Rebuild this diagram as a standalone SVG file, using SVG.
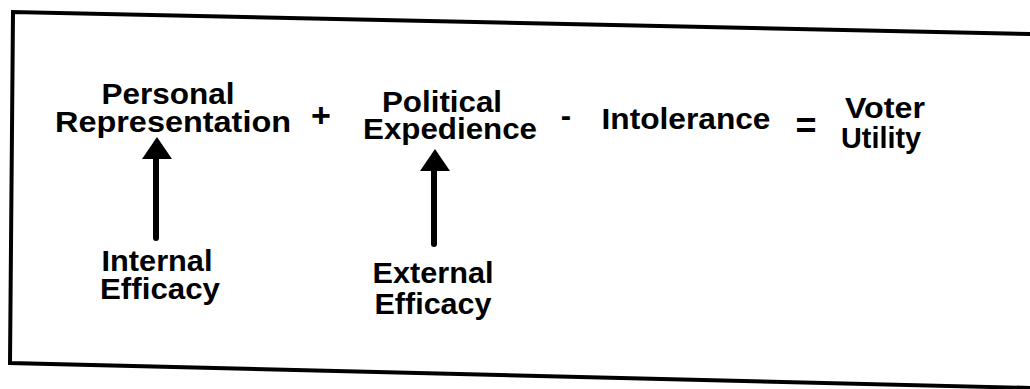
<svg xmlns="http://www.w3.org/2000/svg" width="1030" height="389" viewBox="0 0 1030 389">
  <style>
    .lbl { font-family: "Liberation Sans", Arial, Helvetica, sans-serif; font-weight: bold; font-size: 29.5px; fill: #000; text-anchor: middle; }
    .op { font-family: "Liberation Sans", Arial, Helvetica, sans-serif; font-weight: bold; fill: #000; text-anchor: middle; }
    .frame { fill: none; stroke: #000; stroke-width: 4; stroke-linejoin: miter; }
    .shaft { stroke: #000; stroke-width: 6; stroke-linecap: round; fill: none; }
  </style>

  <rect width="1030" height="389" fill="#fff"/>

  <!-- slightly skewed outer frame -->
  <path class="frame" d="M1032,34 L13,12 L10,363 L1032,388"/>

  <!-- equation terms -->
  <g id="personal-representation">
    <text class="lbl" x="168" y="104" textLength="133" lengthAdjust="spacingAndGlyphs">Personal</text>
    <text class="lbl" x="173" y="132" textLength="236" lengthAdjust="spacingAndGlyphs">Representation</text>
  </g>
  <g id="op-plus">
    <text class="op" x="321" y="127" font-size="34">+</text>
  </g>
  <g id="political-expedience">
    <text class="lbl" x="442" y="112" textLength="120" lengthAdjust="spacingAndGlyphs">Political</text>
    <text class="lbl" x="450" y="139" textLength="174" lengthAdjust="spacingAndGlyphs">Expedience</text>
  </g>
  <g id="op-minus">
    <text class="op" x="566" y="126" font-size="31">-</text>
  </g>
  <g id="intolerance">
    <text class="lbl" x="686" y="129" textLength="169" lengthAdjust="spacingAndGlyphs">Intolerance</text>
  </g>
  <g id="op-equals">
    <text class="op" x="806" y="138" font-size="36">=</text>
  </g>
  <g id="voter-utility">
    <text class="lbl" x="885" y="118" textLength="80" lengthAdjust="spacingAndGlyphs">Voter</text>
    <text class="lbl" x="881" y="148" textLength="80" lengthAdjust="spacingAndGlyphs">Utility</text>
  </g>

  <!-- efficacy sources -->
  <g id="internal-efficacy">
    <text class="lbl" x="157" y="271" textLength="111" lengthAdjust="spacingAndGlyphs">Internal</text>
    <text class="lbl" x="160" y="299" textLength="120" lengthAdjust="spacingAndGlyphs">Efficacy</text>
  </g>
  <g id="external-efficacy">
    <text class="lbl" x="433" y="283" textLength="121" lengthAdjust="spacingAndGlyphs">External</text>
    <text class="lbl" x="433" y="314" textLength="117" lengthAdjust="spacingAndGlyphs">Efficacy</text>
  </g>

  <!-- arrows from efficacy to the terms they feed -->
  <g id="connectors">
    <g id="internal-to-personal">
      <line class="shaft" x1="156" y1="238" x2="156" y2="156"/>
      <path d="M157,137 L172,159 L142,159 Z" fill="#000"/>
    </g>
    <g id="external-to-political">
      <line class="shaft" x1="434" y1="244" x2="434" y2="168"/>
      <path d="M435,149 L450,171 L420,171 Z" fill="#000"/>
    </g>
  </g>
</svg>
